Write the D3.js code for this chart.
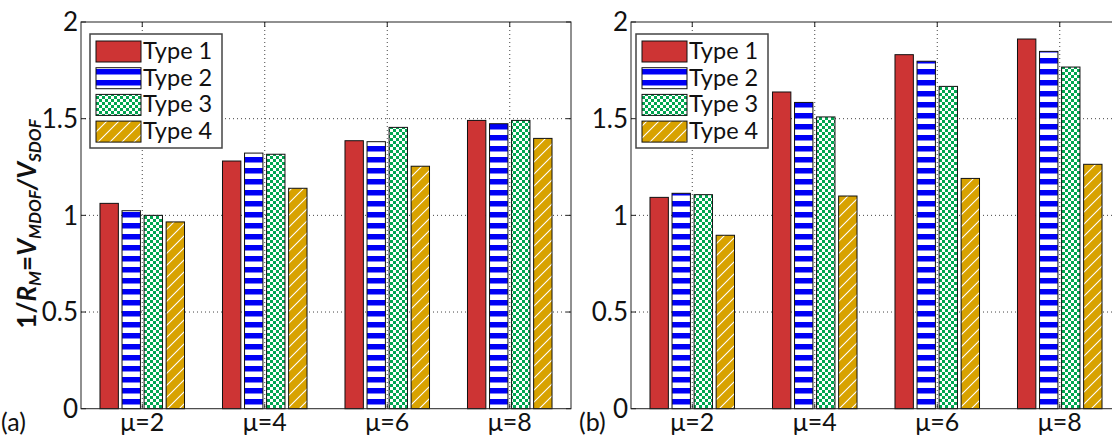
<!DOCTYPE html>
<html>
<head>
<meta charset="utf-8">
<script src="https://cdn.jsdelivr.net/npm/d3@7"></script>
<style>
  body { margin:0; background:#fff; }
  text { font-family: Lato, "Open Sans", sans-serif; }
</style>
</head>
<body>
<svg class="graph"></svg>
<script>
// values
let categories = ['μ=2','μ=4','μ=6','μ=8']
let seriesNames = ['Type 1','Type 2','Type 3','Type 4']
let yTicks = [0, 0.5, 1, 1.5, 2]
let yTickLabels = ['0','0.5','1','1.5','2']

// panel (a)
let a_type1 = [1.062, 1.281, 1.386, 1.491]
let a_type2 = [1.024, 1.322, 1.381, 1.474]
let a_type3 = [1.000, 1.316, 1.455, 1.491]
let a_type4 = [0.966, 1.140, 1.254, 1.398]
// panel (b)
let b_type1 = [1.093, 1.638, 1.831, 1.912]
let b_type2 = [1.114, 1.584, 1.797, 1.848]
let b_type3 = [1.107, 1.509, 1.667, 1.767]
let b_type4 = [0.897, 1.100, 1.191, 1.264]

let W = 1112, H = 437
let svg = d3.select('.graph').attr('width', W).attr('height', H)
svg.append('rect').attr('width', W).attr('height', H).attr('fill', '#fff')

let defs = svg.append('defs')

// horizontal blue stripes
let stripes = defs.append('pattern').attr('id', 'stripes')
  .attr('patternUnits', 'userSpaceOnUse').attr('x', 0).attr('y', 3)
  .attr('width', 11).attr('height', 11)
stripes.append('rect').attr('width', 11).attr('height', 11).attr('fill', '#fff')
stripes.append('rect').attr('width', 11).attr('height', 5.5).attr('fill', '#0000f5')

// green checkerboard
let checker = defs.append('pattern').attr('id', 'checker')
  .attr('patternUnits', 'userSpaceOnUse').attr('width', 6).attr('height', 6)
checker.append('rect').attr('width', 6).attr('height', 6).attr('fill', '#fff')
checker.append('rect').attr('width', 3).attr('height', 3).attr('fill', '#00a650')
checker.append('rect').attr('x', 3).attr('y', 3).attr('width', 3).attr('height', 3).attr('fill', '#00a650')

// gold with white diagonals
let hatch = defs.append('pattern').attr('id', 'hatch')
  .attr('patternUnits', 'userSpaceOnUse').attr('width', 12).attr('height', 12)
hatch.append('rect').attr('width', 12).attr('height', 12).attr('fill', '#d8a200')
hatch.append('path').attr('d', 'M-1,13 L13,-1 M-2,2 L2,-2 M10,14 L14,10')
  .attr('stroke', '#fff').attr('stroke-width', 1.1)

let fills = ['#cd3434', 'url(#stripes)', 'url(#checker)', 'url(#hatch)']

function drawPanel(left, series, tag, tagX, legendX) {
  let top = 22, bottom = 408.7, pw = 490
  let g = svg.append('g')

  let xscale = d3.scaleLinear().domain([0.5, 4.5]).range([left, left + pw])
  let yscale = d3.scaleLinear().domain([0, 2]).range([bottom, top])

  // grid
  g.append('g').selectAll('line').data(categories).join('line')
    .attr('x1', (d, i) => xscale(i + 1)).attr('x2', (d, i) => xscale(i + 1))
    .attr('y1', top).attr('y2', bottom)
    .attr('stroke', '#444').attr('stroke-width', 1).attr('stroke-dasharray', '1,3')
  g.append('g').selectAll('line').data([0.5, 1, 1.5]).join('line')
    .attr('x1', left).attr('x2', left + pw)
    .attr('y1', d => yscale(d)).attr('y2', d => yscale(d))
    .attr('stroke', '#444').attr('stroke-width', 1).attr('stroke-dasharray', '1,3')

  // bars
  let bw = 0.15, pitch = 0.18
  series.forEach((vals, j) => {
    g.append('g').selectAll('rect').data(vals).join('rect')
      .attr('x', (d, i) => xscale(i + 1 + (j - 1.5) * pitch - bw / 2))
      .attr('width', xscale(bw) - xscale(0))
      .attr('y', d => yscale(d))
      .attr('height', d => yscale(0) - yscale(d))
      .attr('fill', fills[j])
      .attr('stroke', '#111').attr('stroke-width', 1)
  })

  // frame
  g.append('rect').attr('x', left).attr('y', top).attr('width', pw).attr('height', bottom - top)
    .attr('fill', 'none').attr('stroke', '#222').attr('stroke-width', 1)

  // inward ticks
  let tl = 5
  yTicks.forEach(t => {
    g.append('line').attr('x1', left).attr('x2', left + tl)
      .attr('y1', yscale(t)).attr('y2', yscale(t)).attr('stroke', '#222')
    g.append('line').attr('x1', left + pw).attr('x2', left + pw - tl)
      .attr('y1', yscale(t)).attr('y2', yscale(t)).attr('stroke', '#222')
  })
  categories.forEach((c, i) => {
    g.append('line').attr('x1', xscale(i + 1)).attr('x2', xscale(i + 1))
      .attr('y1', bottom).attr('y2', bottom - tl).attr('stroke', '#222')
    g.append('line').attr('x1', xscale(i + 1)).attr('x2', xscale(i + 1))
      .attr('y1', top).attr('y2', top + tl).attr('stroke', '#222')
  })

  // tick labels
  g.append('g').selectAll('text').data(yTicks).join('text')
    .attr('x', left - 3).attr('y', d => yscale(d))
    .attr('dy', '0.36em').attr('text-anchor', 'end')
    .style('font-size', '26px').attr('fill', '#111')
    .text((d, i) => yTickLabels[i])
  g.append('g').selectAll('text').data(categories).join('text')
    .attr('x', (d, i) => xscale(i + 1)).attr('y', 431)
    .attr('text-anchor', 'middle')
    .style('font-size', '25px').attr('fill', '#111')
    .text(d => d)

  g.append('text').attr('x', tagX).attr('y', 431)
    .style('font-size', '25px').attr('fill', '#111').text(tag)

  // legend
  let lg = g.append('g')
  let lx = legendX, ly = 34
  lg.append('rect').attr('x', lx).attr('y', ly).attr('width', 132).attr('height', 114)
    .attr('fill', '#fff').attr('stroke', '#444').attr('stroke-width', 1.5)
  seriesNames.forEach((s, j) => {
    let ry = ly + 7 + j * 26.7
    lg.append('rect').attr('x', lx + 6).attr('y', ry).attr('width', 45).attr('height', 21)
      .attr('fill', fills[j]).attr('stroke', '#111').attr('stroke-width', 1)
    lg.append('text').attr('x', lx + 53).attr('y', ry + 18)
      .style('font-size', '23.5px').attr('fill', '#111').text(s)
  })
}

drawPanel(81, [a_type1, a_type2, a_type3, a_type4], '(a)', 1, 90)
drawPanel(631, [b_type1, b_type2, b_type3, b_type4], '(b)', 579, 636)

// y axis label
let ylab = svg.append('text')
  .attr('transform', 'translate(36,224) rotate(-90)')
  .attr('text-anchor', 'middle')
  .style('font-size', '26px').style('font-weight', 'bold').attr('fill', '#111')
ylab.append('tspan').text('1/')
ylab.append('tspan').style('font-style', 'italic').text('R')
ylab.append('tspan').style('font-style', 'italic').style('font-size', '17px').attr('dy', 5).text('M')
ylab.append('tspan').attr('dy', -5).text('=')
ylab.append('tspan').style('font-style', 'italic').text('V')
ylab.append('tspan').style('font-style', 'italic').style('font-size', '17px').attr('dy', 5).text('MDOF')
ylab.append('tspan').attr('dy', -5).style('font-style', 'italic').text('/V')
ylab.append('tspan').style('font-style', 'italic').style('font-size', '17px').attr('dy', 5).text('SDOF')
</script>
</body>
</html>
